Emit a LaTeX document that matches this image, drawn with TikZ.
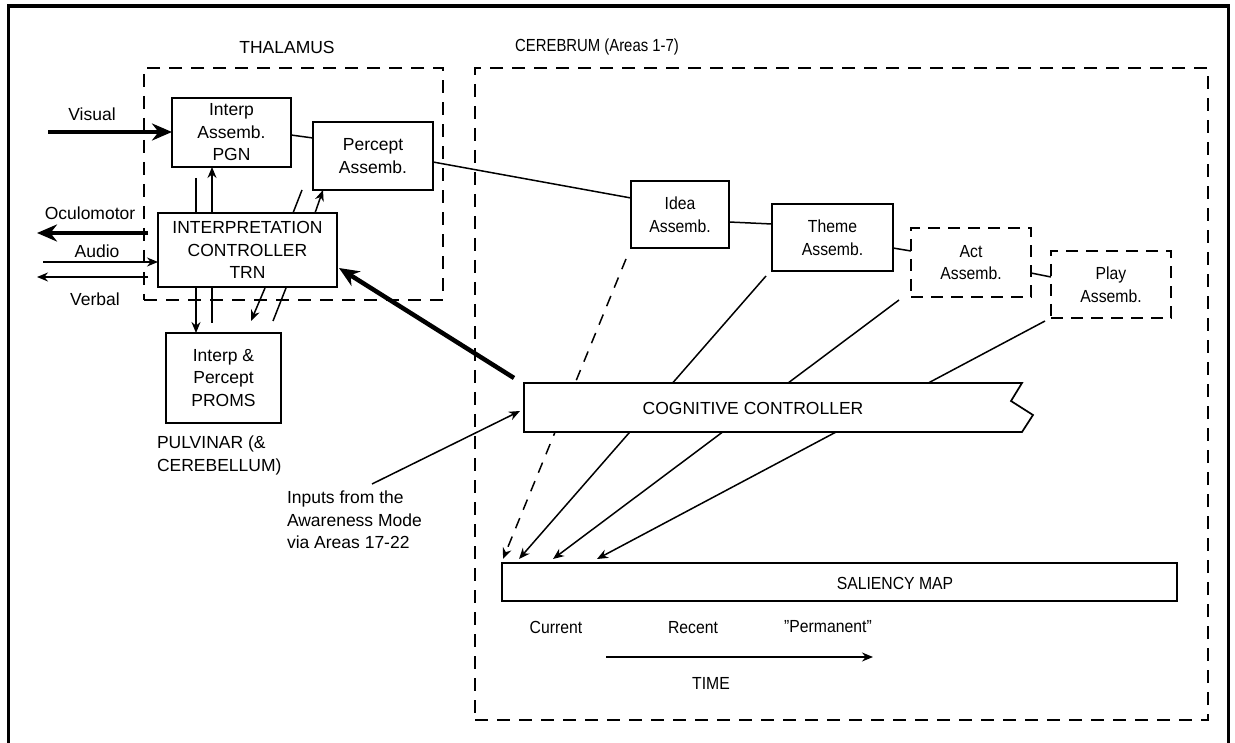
\documentclass[tikz,border=0pt]{standalone}
\usepackage{fontspec}
\setmainfont{Liberation Sans}
\usetikzlibrary{arrows.meta,backgrounds,calc}
\begin{document}
\begin{tikzpicture}[x=1pt,y=-1pt,
  every node/.style={font=\fontsize{17.5}{22.5}\selectfont, inner sep=0pt, outer sep=0pt},
  box/.style={draw, line width=1.7pt, align=center, anchor=north west},
  dbox/.style={box, dash pattern=on 12pt off 8pt},
  region/.style={draw, line width=1.5pt, dash pattern=on 13pt off 9pt, anchor=north west},
  conn/.style={line width=1.5pt},
  dconn/.style={conn, dash pattern=on 11pt off 9pt},
  arr/.style={conn, -{Stealth[length=11pt,width=9pt]}},
  darr/.style={dconn, -{Stealth[length=11pt,width=9pt]}},
  bigarr/.style={line width=4.5pt, -{Stealth[length=20pt,width=17pt]}},
  lab/.style={align=left, anchor=north west}
]
\useasboundingbox (0,0) rectangle (1235,743);
\clip (0,0) rectangle (1235,743);
% outer frame
\draw[line width=3.5pt] (8.5,760) -- (8.5,6) -- (1228.5,6) -- (1228.5,760);

% regions
\node[region, minimum width=299pt, minimum height=232pt] (thal) at (144,68) {};
\node[region, minimum width=733pt, minimum height=652pt] (cereb) at (475,68) {};
\node (thallab) at (287,47) {THALAMUS};
\node (cerlab) at (597,47) {\addfontfeature{FakeStretch=0.85}CEREBRUM (Areas 1-7)};

% thalamus boxes
\node[box, minimum width=119pt, minimum height=69pt] (pgn) at (172,98) {Interp\\Assemb.\\PGN};
\node[box, minimum width=120pt, minimum height=68pt] (percept) at (313,122) {Percept\\Assemb.};
\node[box, minimum width=179pt, minimum height=74pt] (ctrl) at (158,213) {INTERPRETATION\\CONTROLLER\\TRN};
\node[box, minimum width=115pt, minimum height=90pt] (proms) at (166,333) {Interp \&\\Percept\\PROMS};
\node[lab] (pulv) at (157,436) {PULVINAR (\&\\CEREBELLUM)};

% left inputs / outputs
\node (vislab) at (92,114) {Visual};
\node (ocullab) at (90,213) {Oculomotor};
\node (audlab) at (97,251) {Audio};
\node (verblab) at (95,299) {Verbal};
\coordinate (visS) at (48,132);
\coordinate (ocS) at (148,233);
\coordinate (ocE) at (37,233);
\coordinate (audS) at (43,262);
\coordinate (verS) at (148,277);
\coordinate (verE) at (37,277);
\draw[bigarr] (visS) -- (visS -| pgn.west);
\draw[bigarr] (ocS) -- (ocE);
\draw[arr] (audS) -- (audS -| ctrl.west);
\draw[arr] (verS) -- (verE);

% vertical links through the controller
\coordinate (v1) at (196,178);
\coordinate (v2) at (212,323);
\draw[conn] (v1) -- (v1 |- ctrl.north);
\draw[arr] (ctrl.north -| v2) -- (pgn.south -| v2);
\draw[arr] (ctrl.south -| v1) -- (proms.north -| v1);
\draw[conn] (ctrl.south -| v2) -- (v2);
\coordinate (s1a) at (293,213);
\coordinate (s1b) at (302,190);
\coordinate (s2a) at (315,213);
\coordinate (s2b) at (323,190);
\coordinate (s3a) at (265,288);
\coordinate (s3b) at (251,321);
\coordinate (s4a) at (286,288);
\coordinate (s4b) at (273,321);
\draw[conn] (s1a) -- (s1b);
\draw[arr] (s2a) -- (s2b);
\draw[arr] (s3a) -- (s3b);
\draw[conn] (s4a) -- (s4b);

% cerebrum assemblies
\node[box, minimum width=98pt, minimum height=67pt] (idea) at (631,181) {\addfontfeature{FakeStretch=0.9}Idea\\\addfontfeature{FakeStretch=0.9}Assemb.};
\node[box, minimum width=121pt, minimum height=67pt] (theme) at (772,204) {\addfontfeature{FakeStretch=0.9}Theme\\\addfontfeature{FakeStretch=0.9}Assemb.};
\node[dbox, minimum width=120pt, minimum height=69pt] (act) at (911,228) {\addfontfeature{FakeStretch=0.9}Act\\\addfontfeature{FakeStretch=0.9}Assemb.};
\node[dbox, minimum width=120pt, minimum height=67pt] (play) at (1051,251) {\addfontfeature{FakeStretch=0.9}Play\\\addfontfeature{FakeStretch=0.9}Assemb.};

\draw[conn] ($(pgn.north east)+(0,37)$) -- ($(percept.north west)+(0,16)$);
\draw[conn] ($(percept.north east)+(0,40)$) -- ($(idea.north west)+(0,17)$);
\draw[conn] ($(idea.north east)+(0,41)$) -- ($(theme.north west)+(0,20)$);
\draw[conn] ($(theme.north east)+(0,44)$) -- ($(act.north west)+(0,23)$);
\draw[conn] ($(act.north east)+(0,45)$) -- ($(play.north west)+(0,26)$);

% cognitive controller
\coordinate (ccNW) at (524,383);
\coordinate (ccNE) at (1022,383);
\coordinate (ccSE) at (1022,432);
\coordinate (ccSW) at (524,432);
\filldraw[fill=white, line width=1.7pt] (ccNW) -- (ccNE) -- ++(-11,18) -- ++(22,14) -- (ccSE) -- (ccSW) -- cycle;
\node (cc) at (753,408) {COGNITIVE CONTROLLER};

% saliency map
\node[box, minimum width=675pt, minimum height=38pt] (sal) at (502,563) {};
\node (sallab) at (895,583) {\addfontfeature{FakeStretch=0.9}SALIENCY MAP};
\node (cur) at (556,627) {\addfontfeature{FakeStretch=0.9}Current};
\node (rec) at (693,628) {\addfontfeature{FakeStretch=0.9}Recent};
\node (perm) at (828,627) {\addfontfeature{FakeStretch=0.9}\symbol{34}Permanent\symbol{34}};
\coordinate (tS) at (606,657);
\coordinate (tE) at (873,657);
\draw[arr] (tS) -- (tE);
\node (time) at (711,683) {\addfontfeature{FakeStretch=0.9}TIME};

% feeds into saliency map (behind the cognitive controller)
\begin{pgfonlayer}{background}
\coordinate (f1) at (626,259);
\coordinate (f2) at (766,276);
\coordinate (f3) at (899,300);
\coordinate (f4) at (1045,321);
\draw[darr] (f1) -- ($(sal.north west)+(1,-4)$);
\draw[arr] (f2) -- ($(sal.north west)+(17,-4)$);
\draw[arr] (f3) -- ($(sal.north west)+(51,-4)$);
\draw[arr] (f4) -- ($(sal.north west)+(95,-4)$);
\end{pgfonlayer}

% links to/from cognitive controller
\coordinate (thS) at (514,378);
\draw[bigarr] (thS) -- ($(ctrl.north east)+(2,55)$);
\coordinate (inS) at (372,484);
\draw[arr] (inS) -- ($(ccNW)+(-4,28)$);
\node[lab] (inlab) at (287,491) {Inputs from the\\Awareness Mode\\via Areas 17-22};
\end{tikzpicture}
\end{document}
